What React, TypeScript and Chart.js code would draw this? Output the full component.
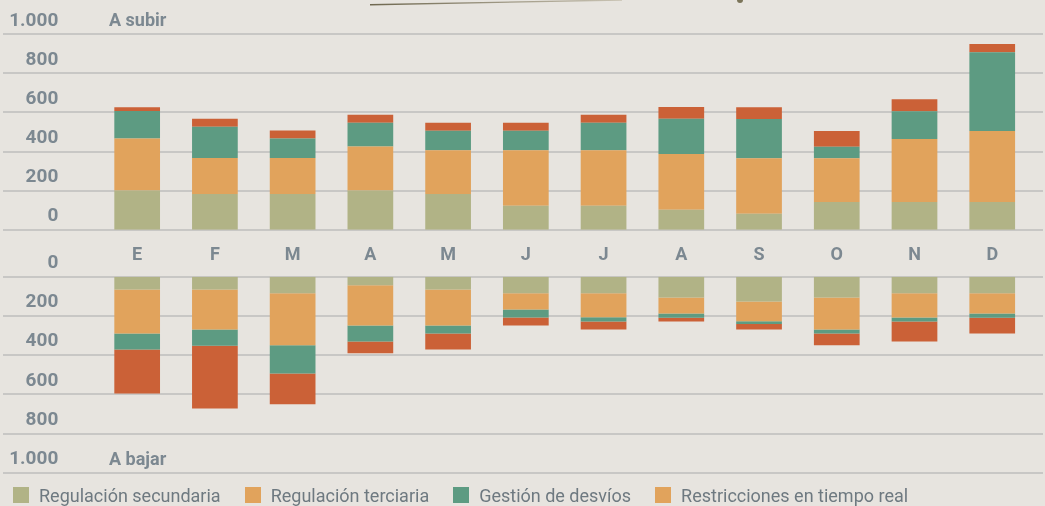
import React, { useEffect, useRef } from 'react';
import { Chart, registerables } from 'chart.js';

Chart.register(...registerables);

// ---- Data ----
const months = ['E', 'F', 'M', 'A', 'M', 'J', 'J', 'A', 'S', 'O', 'N', 'D'];
const seriesNames = [
  'Regulación secundaria',
  'Regulación terciaria',
  'Gestión de desvíos',
  'Restricciones en tiempo real',
];
const yTickValues = [0, 200, 400, 600, 800, 1000];
const panelUpLabel = 'A subir';
const panelDownLabel = 'A bajar';

// A subir
const upSecundaria = [200, 183, 183, 201, 183, 123, 123, 102, 82, 142, 142, 142];
const upTerciaria = [267, 184, 184, 225, 223, 283, 283, 285, 284, 224, 322, 363];
const upDesvios = [140, 160, 100, 121, 100, 100, 141, 181, 201, 59, 142, 403];
const upTiempoReal = [20, 41, 41, 41, 41, 41, 41, 60, 60, 80, 61, 42];

// A bajar
const downSecundaria = [65, 65, 85, 44, 65, 85, 85, 106, 126, 106, 85, 85];
const downTerciaria = [225, 205, 265, 205, 184, 82, 122, 82, 101, 164, 123, 103];
const downDesvios = [82, 82, 144, 82, 41, 41, 22, 22, 14, 20, 21, 22];
const downTiempoReal = [224, 320, 157, 59, 82, 41, 41, 19, 29, 60, 102, 80];

// ---- Styles ----
const BG = '#e7e4df';
const GRID = '#c8c7c5';
const TICK_COLOR = '#7c8891';
const LEGEND_TEXT = '#6e7980';
const barColors = ['#b1b386', '#e1a35c', '#5d9b82', '#cb6137'];
const legendSwatches = ['#b1b386', '#e1a35c', '#5d9b82', '#e1a35c'];

const W = 1045;
const Y_AXIS_W = 98.3;
const PAD_RIGHT = 13.9;
const UP_H = 244;

const fullGrid = {
  id: 'fullGrid',
  beforeDatasetsDraw(chart: any) {
    const ys = chart.scales.y;
    const ctx = chart.ctx;
    ctx.save();
    ctx.strokeStyle = GRID;
    ctx.lineWidth = 2;
    ys.ticks.forEach((t: any) => {
      const py = Math.round(ys.getPixelForValue(t.value));
      ctx.beginPath();
      ctx.moveTo(3, py);
      ctx.lineTo(1043, py);
      ctx.stroke();
    });
    ctx.restore();
  },
};

function fmt(v: number) {
  return v >= 1000 ? '1.000' : String(v);
}

function buildDatasets(values: number[][]) {
  return values.map((d, i) => ({
    label: seriesNames[i],
    data: d,
    backgroundColor: barColors[i],
    borderWidth: 0,
    barPercentage: 0.588,
    categoryPercentage: 1,
  }));
}

function yScale(reverse: boolean) {
  return {
    stacked: true,
    reverse,
    min: 0,
    max: 1000,
    afterBuildTicks: (s: any) => {
      s.ticks = yTickValues.map((v) => ({ value: v }));
    },
    afterFit: (s: any) => {
      s.width = Y_AXIS_W;
    },
    grid: { display: false, drawTicks: true, tickLength: 40 },
    border: { display: false },
    ticks: {
      padding: 0,
      labelOffset: -13.5,
      color: TICK_COLOR,
      font: { family: 'Roboto', weight: 'bold' as const, size: 19 },
      callback: (v: any) => fmt(Number(v)),
    },
  };
}

function UpperChart() {
  const ref = useRef<HTMLCanvasElement>(null);
  useEffect(() => {
    if (!ref.current) return;
    const chart = new Chart(ref.current, {
      type: 'bar',
      data: {
        labels: months,
        datasets: buildDatasets([upSecundaria, upTerciaria, upDesvios, upTiempoReal]),
      },
      options: {
        responsive: false,
        animation: false,
        devicePixelRatio: 1,
        layout: { padding: { top: 34.3, right: PAD_RIGHT, bottom: UP_H - 229.7, left: 0 } },
        scales: {
          x: { display: false, stacked: true, offset: true },
          y: yScale(false) as any,
        },
        plugins: { legend: { display: false }, tooltip: { enabled: false } },
      },
      plugins: [fullGrid],
    });
    return () => chart.destroy();
  }, []);
  return <canvas ref={ref} width={W} height={UP_H} style={{ position: 'absolute', left: 0, top: 0, width: W, height: UP_H }} />;
}

function LowerChart() {
  const ref = useRef<HTMLCanvasElement>(null);
  useEffect(() => {
    if (!ref.current) return;
    const chart = new Chart(ref.current, {
      type: 'bar',
      data: {
        labels: months,
        datasets: buildDatasets([downSecundaria, downTerciaria, downDesvios, downTiempoReal]),
      },
      options: {
        responsive: false,
        animation: false,
        devicePixelRatio: 1,
        layout: { padding: { top: 0, right: PAD_RIGHT, bottom: 33.3, left: 0 } },
        scales: {
          x: {
            position: 'top',
            stacked: true,
            offset: true,
            grid: { display: false, drawTicks: false },
            border: { display: false },
            afterFit: (s: any) => {
              s.height = 36.7;
            },
            ticks: {
              padding: 10,
              color: TICK_COLOR,
              font: { family: 'Roboto', weight: 'bold' as const, size: 18 },
              maxRotation: 0,
              autoSkip: false,
            },
          },
          y: yScale(true) as any,
        },
        plugins: { legend: { display: false }, tooltip: { enabled: false } },
      },
      plugins: [fullGrid],
    });
    return () => chart.destroy();
  }, []);
  return <canvas ref={ref} width={W} height={266} style={{ position: 'absolute', left: 0, top: 240, width: W, height: 266 }} />;
}

const panelLabelStyle: React.CSSProperties = {
  position: 'absolute',
  left: 109,
  fontFamily: 'Roboto',
  fontWeight: 700,
  fontSize: 18,
  lineHeight: '20px',
  color: TICK_COLOR,
  whiteSpace: 'nowrap',
};

export default function App() {
  return (
    <div
      style={{
        position: 'fixed',
        left: 0,
        top: 0,
        width: W,
        height: 506,
        background: BG,
        overflow: 'hidden',
      }}
    >
      <svg width={W} height={12} style={{ position: 'absolute', left: 0, top: 0 }}>
        <defs>
          <linearGradient id="callout" x1="0" x2="1" y1="0" y2="0">
            <stop offset="0" stopColor="#6f6850" />
            <stop offset="1" stopColor="#c9c3b3" />
          </linearGradient>
        </defs>
        <line x1={370} y1={4.7} x2={622} y2={0} stroke="url(#callout)" strokeWidth={1.4} />
        <circle cx={740} cy={0} r={3} fill="#7b7459" />
      </svg>
      <LowerChart />
      <UpperChart />
      <div style={{ ...panelLabelStyle, top: 10 }}>{panelUpLabel}</div>
      <div style={{ ...panelLabelStyle, top: 449 }}>{panelDownLabel}</div>
      <div
        style={{
          position: 'absolute',
          left: 13,
          top: 486,
          height: 18,
          display: 'flex',
          alignItems: 'center',
          fontFamily: 'Roboto',
          fontSize: 18,
          color: LEGEND_TEXT,
          whiteSpace: 'nowrap',
        }}
      >
        {seriesNames.map((name, i) => (
          <div key={name} style={{ display: 'flex', alignItems: 'center', marginRight: 24 }}>
            <span style={{ width: 16, height: 16, background: legendSwatches[i], display: 'inline-block', marginRight: 10 }} />
            <span>{name}</span>
          </div>
        ))}
      </div>
    </div>
  );
}
